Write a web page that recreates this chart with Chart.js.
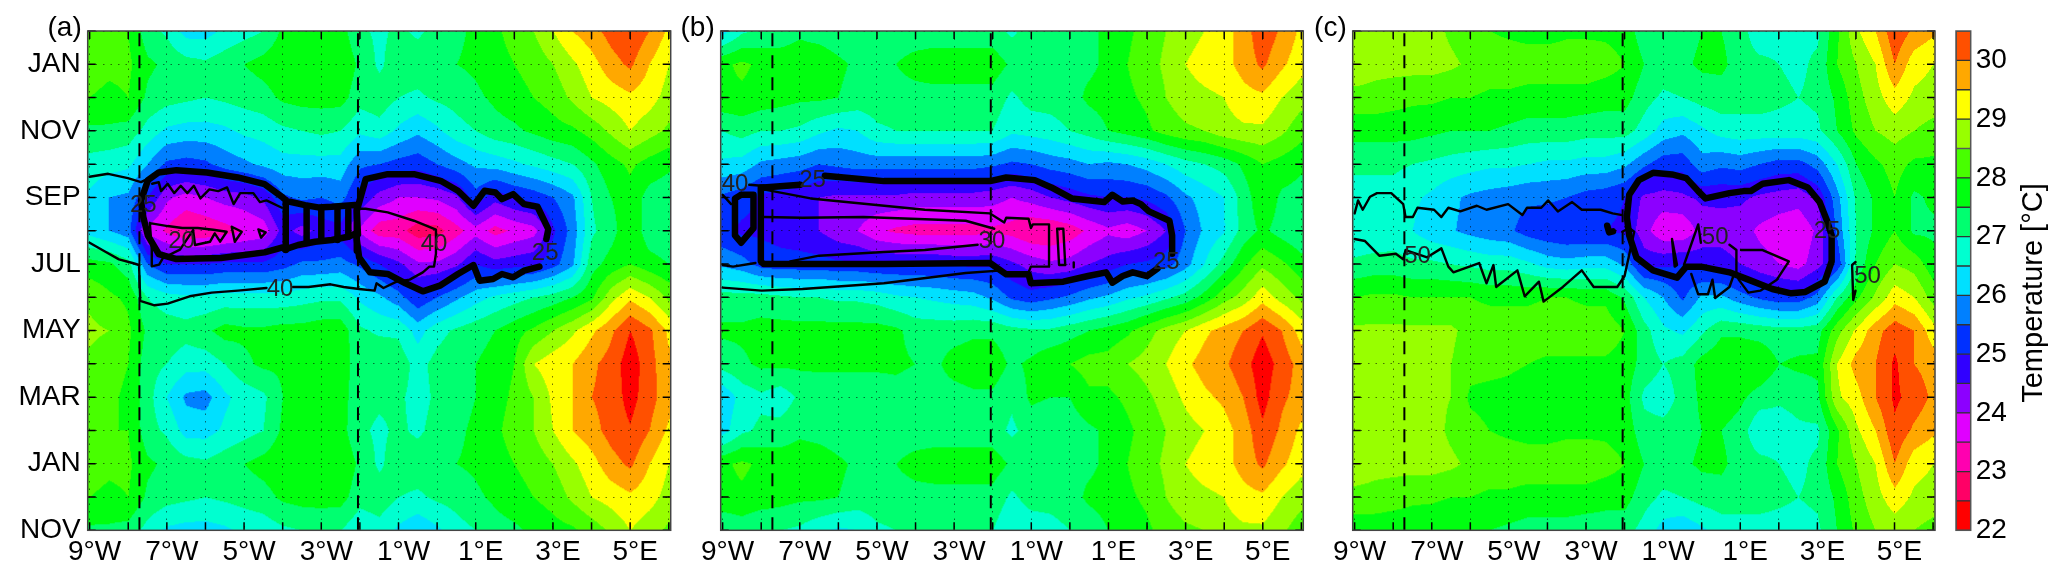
<!DOCTYPE html>
<html>
<head>
<meta charset="utf-8">
<title>Temperature sections</title>
<script src="https://cdn.jsdelivr.net/npm/chart.js@4"></script>
<style>
  html, body { margin: 0; padding: 0; background: #fff; }
  canvas { position: absolute; top: 0; }
</style>
</head>
<body>
<canvas id="panelA" width="680" height="578" style="left:0"></canvas>
<canvas id="panelB" width="640" height="578" style="left:672px"></canvas>
<canvas id="panelC" width="632" height="578" style="left:1312px"></canvas>
<canvas id="colorbar" width="123" height="578" style="left:1944px"></canvas>
<script>
// longitudes of the temperature columns
const lonGrid = [-9,-8.5,-8,-7.5,-7,-6.5,-6,-5.5,-5,-4.5,-4,-3.5,-3,-2.5,-2,-1.5,-1,-0.5,0,0.5,1,1.5,2,2.5,3,3.5,4,4.5,5,5.5,6];
const lonTicks = [-9,-8,-7,-6,-5,-4,-3,-2,-1,0,1,2,3,4,5,6];
const lonLabels = ["9°W","","7°W","","5°W","","3°W","","1°W","","1°E","","3°E","","5°E",""];
// month axis runs NOV (0) up to the next FEB (15)
const monthTicks = [0,1,2,3,4,5,6,7,8,9,10,11,12,13,14,15];
const monthLabels = ["NOV","","JAN","","MAR","","MAY","","JUL","","SEP","","NOV","","JAN",""];
const sectionLons = [-7.71, -2.05];

// one row per month: NOV DEC JAN FEB MAR APR MAY JUN JUL AUG SEP OCT
const tempA = [
  [27.4,27.4,27.3,26.8,26.4,26.3,26.3,26.4,26.6,26.7,26.9,27.0,27.1,27.0,26.6,26.8,26.4,26.1,26.4,26.8,27.0,27.3,27.4,27.6,27.8,27.9,28.2,28.6,29.0,28.7,28.4],
  [28.0,27.9,28.0,27.4,27.2,27.1,27.0,27.1,27.2,27.3,27.6,27.7,27.7,27.7,27.2,27.3,27.0,26.9,27.1,27.2,27.4,27.6,27.8,28.0,28.2,28.6,29.0,29.2,29.4,29.2,28.8],
  [28.2,28.1,28.1,27.6,27.4,27.2,27.1,27.3,27.5,27.7,27.9,27.9,27.9,27.9,27.4,26.9,27.3,27.3,27.4,27.5,27.6,27.8,28.0,28.2,28.5,28.9,29.3,29.8,30.1,29.5,29.0],
  [28.1,28.0,28.0,27.2,26.9,26.3,26.3,26.6,26.8,27.0,27.6,27.7,27.8,27.7,27.1,26.9,27.1,26.9,27.2,27.4,27.6,27.9,28.2,28.5,29.0,29.5,29.8,30.2,30.45,30.0,29.4],
  [28.2,28.1,27.9,27.2,26.5,25.9,25.8,26.4,26.7,26.9,27.5,27.7,27.8,27.7,27.2,27.1,27.1,26.8,27.1,27.3,27.5,27.8,28.1,28.5,29.1,29.5,30.0,30.2,30.7,30.2,29.7],
  [28.4,28.2,28.0,27.2,27.0,26.7,26.7,27.0,27.4,27.6,27.6,27.7,27.9,27.7,27.3,27.5,27.3,26.8,27.2,27.4,27.5,27.7,28.0,29.0,29.3,29.5,29.9,30.2,30.8,30.2,29.6],
  [28.6,28.5,28.1,27.4,27.3,27.2,27.4,27.7,27.6,27.6,27.7,27.7,27.8,27.8,27.1,26.9,26.9,26.3,26.8,27.1,27.3,27.5,27.8,28.1,28.5,28.9,29.4,29.9,30.5,30.1,29.4],
  [28.4,28.1,27.9,27.0,26.7,26.6,26.6,26.7,26.7,26.7,26.7,26.8,26.9,26.9,26.4,26.1,25.7,25.1,25.5,25.9,26.3,26.6,26.8,27.0,27.2,27.5,27.9,28.8,29.4,29.0,28.4],
  [27.7,27.6,27.2,25.5,25.0,25.0,25.0,25.1,25.1,25.1,25.3,25.6,25.6,25.7,25.4,25.0,24.6,24.1,24.1,24.4,25.0,24.7,24.8,24.9,25.3,25.9,27.3,27.7,28.0,27.7,27.5],
  [26.3,26.0,25.7,23.8,23.4,23.0,23.1,23.3,23.5,23.7,24.7,24.3,24.7,24.8,23.9,23.2,23.2,22.7,22.8,23.3,23.8,23.3,23.6,23.8,24.9,25.7,26.9,27.3,27.9,27.2,27.1],
  [26.4,26.0,25.9,25.0,24.1,23.8,24.0,24.2,24.3,24.6,25.4,25.6,25.5,25.7,24.9,24.3,24.0,24.0,24.1,24.4,25.3,24.7,25.0,25.2,25.5,25.9,27.0,27.5,27.8,27.3,27.2],
  [26.8,26.7,26.6,26.0,25.4,25.3,25.4,25.7,25.9,26.1,26.3,26.3,26.3,26.3,25.6,25.5,25.3,25.2,25.5,25.8,26.1,26.2,26.4,26.6,26.8,27.0,27.4,27.8,28.1,27.8,27.6]
];
const tempB = [
  [27.0,27.2,27.0,27.0,26.9,26.6,26.4,26.5,26.9,27.0,27.0,27.0,27.0,27.0,27.0,26.6,26.7,26.8,27.0,27.2,27.5,27.7,27.9,28.2,28.4,28.5,28.8,28.9,28.9,28.6,28.2],
  [27.9,27.9,27.8,27.7,27.6,27.6,27.5,27.3,27.3,27.3,27.3,27.3,27.3,27.3,27.3,26.9,27.2,27.2,27.3,27.6,27.7,27.9,28.1,28.5,28.8,28.9,29.0,29.3,29.4,29.0,28.7],
  [27.9,28.1,27.9,27.8,27.8,27.8,27.6,27.4,27.4,27.5,27.7,27.8,27.8,27.8,27.8,27.4,27.5,27.4,27.4,27.4,27.6,28.0,28.3,28.6,29.0,29.2,29.3,29.7,30.1,29.6,29.2],
  [26.3,26.9,27.1,27.2,27.4,27.3,27.2,27.2,27.2,27.2,27.2,27.2,27.2,27.2,27.2,26.9,27.2,27.1,27.2,27.4,27.6,27.9,28.2,28.5,28.8,29.0,29.3,29.7,30.4,29.9,29.4],
  [26.1,26.7,26.9,26.7,27.1,27.2,27.2,27.2,27.2,27.3,27.2,27.3,27.3,27.4,27.4,27.1,27.6,27.5,27.5,27.9,27.9,28.1,28.4,28.7,29.1,29.4,29.6,30.0,30.7,30.1,29.8],
  [27.2,27.4,27.6,27.6,27.6,27.6,27.6,27.6,27.6,27.6,27.5,27.4,27.7,27.8,27.8,27.4,27.6,27.9,28.0,28.2,28.2,28.5,28.7,29.0,29.4,29.7,29.9,30.3,30.8,30.3,29.8],
  [27.6,27.6,27.7,27.7,27.7,27.7,27.7,27.7,27.7,27.6,27.3,27.3,27.3,27.4,27.4,27.2,27.1,27.1,27.3,27.5,27.7,27.9,28.3,28.7,29.0,29.4,29.7,30.0,30.45,30.0,29.3],
  [27.2,27.2,27.2,27.1,27.0,27.0,26.9,26.9,26.8,26.6,26.5,26.4,26.3,26.2,25.9,25.4,25.2,25.4,25.6,25.9,26.1,26.4,26.6,26.9,27.2,27.7,28.3,28.7,29.3,28.8,28.4],
  [25.9,25.7,25.3,25.2,25.2,25.2,25.1,25.1,25.0,25.0,25.0,25.0,24.9,24.9,24.9,24.6,24.3,24.1,24.2,24.5,24.7,25.0,25.1,25.3,25.8,26.5,27.2,27.9,28.4,28.1,27.7],
  [25.1,24.9,24.9,24.8,24.7,24.5,24.2,24.0,23.6,23.4,23.3,23.3,23.3,23.3,23.4,23.3,23.0,23.0,23.2,23.6,23.9,23.7,24.0,24.5,25.5,26.1,26.45,27.2,27.6,27.3,27.1],
  [25.4,25.2,24.9,24.8,24.7,24.5,24.4,24.4,24.4,24.4,24.3,24.3,24.3,24.3,24.2,24.0,24.2,24.5,24.7,24.9,25.0,25.0,25.1,25.4,25.9,26.2,26.5,27.2,27.9,27.4,27.3],
  [26.4,26.3,25.9,25.8,25.7,25.5,25.6,25.7,25.7,25.7,25.7,25.7,25.7,25.7,25.6,25.4,25.5,25.7,25.8,26.0,25.9,26.0,26.2,26.5,26.8,27.0,27.2,27.6,28.0,27.8,27.6]
];
const tempC = [
  [27.7,27.7,27.7,27.7,27.6,27.5,27.5,27.5,27.4,27.3,27.3,27.3,27.2,27.2,27.2,26.8,26.3,26.1,26.4,26.7,26.8,26.8,26.8,26.8,26.9,27.5,28.1,28.5,28.7,28.5,28.3],
  [28.3,28.3,28.2,28.1,28.1,28.0,28.0,27.9,27.9,27.8,27.8,27.8,27.8,27.7,27.7,27.2,26.9,27.0,27.2,27.3,27.2,27.2,27.1,27.0,27.1,27.6,28.3,28.8,29.3,28.9,28.8],
  [28.9,28.7,28.7,28.7,28.7,28.6,28.4,28.3,28.3,28.3,28.3,28.3,28.3,28.2,28.0,27.5,27.3,27.4,27.6,27.6,27.3,27.2,27.0,26.9,27.1,28.0,28.5,29.0,30.0,29.2,29.0],
  [28.8,28.7,28.7,28.7,28.7,28.4,28.2,28.0,27.9,27.8,27.8,27.9,27.9,27.9,27.8,27.2,27.2,27.3,27.5,27.5,27.3,26.5,26.7,26.9,26.9,27.9,28.9,29.5,30.4,29.9,29.6],
  [28.8,28.8,28.7,28.7,28.6,28.5,27.9,27.8,27.8,27.7,27.7,27.8,27.8,27.8,27.7,26.9,26.7,27.2,27.6,27.8,27.6,27.3,27.1,27.2,27.4,28.9,29.3,30.0,30.6,30.3,29.9],
  [28.8,28.8,28.7,28.7,28.7,28.5,28.2,28.2,28.1,28.0,27.9,27.9,27.9,27.9,27.8,27.3,27.0,27.2,27.7,27.9,27.9,27.9,27.5,27.6,27.6,29.0,29.7,30.0,30.6,30.0,29.8],
  [28.6,28.6,28.6,28.6,28.6,28.6,28.3,28.3,28.3,28.3,28.3,28.3,28.3,28.3,28.0,27.2,26.6,26.4,26.9,27.4,27.4,27.3,27.2,27.2,27.3,28.3,29.1,29.8,30.3,30.0,29.2],
  [28.0,28.1,28.1,28.0,28.0,28.0,28.0,27.9,27.9,27.9,28.0,28.0,27.9,27.9,27.4,26.5,26.0,25.4,26.1,26.1,25.7,25.4,25.2,25.2,25.7,27.0,27.9,28.6,29.3,29.0,28.3],
  [27.1,27.2,27.2,27.1,27.1,27.0,26.9,26.8,26.8,26.6,26.3,26.2,26.3,26.3,25.9,24.8,24.9,25.0,24.8,24.7,24.5,24.2,24.0,23.8,24.3,25.1,27.1,28.0,28.5,28.3,27.7],
  [26.6,26.6,26.7,26.5,26.2,26.05,25.85,25.7,25.6,25.25,25.1,25.0,25.0,25.0,24.9,24.2,23.6,23.6,24.2,24.3,24.2,23.9,23.7,23.6,24.1,25.6,27.0,27.6,28.0,27.4,27.4],
  [26.8,26.8,26.8,26.6,26.4,26.1,25.9,25.8,25.7,25.6,25.6,25.5,25.3,25.2,25.0,24.4,24.3,24.4,24.6,24.6,24.6,24.4,24.3,24.2,24.6,25.8,27.1,27.6,28.0,27.4,27.6],
  [27.1,27.1,27.1,27.0,26.9,26.8,26.7,26.6,26.6,26.5,26.4,26.4,26.3,26.3,26.1,25.6,25.2,25.2,25.8,25.6,25.7,25.5,25.3,25.3,25.7,26.5,27.5,27.9,28.2,27.9,27.9]
];

// contour lines as [lon, month] pairs
const thickA = [
  [[-7.61,9.41],[-7.67,9.9],[-7.49,10.52],[-7.21,10.75],[-6.75,10.82],[-5.96,10.75],[-5.16,10.6],[-4.47,10.4],[-4.0,10.0],[-3.92,9.92],[-3.92,8.42],[-4.0,8.5],[-4.47,8.35],[-5.6,8.18],[-6.75,8.15],[-7.21,8.3],[-7.49,8.85],[-7.61,9.41]],
  [[-2.05,8.9],[-2.08,9.6],[-1.85,10.55],[-1.28,10.7],[-0.6,10.7],[0.09,10.5],[0.54,10.2],[0.94,9.75],[1.23,10.2],[1.51,10.15],[1.68,9.95],[1.97,10.1],[2.25,9.8],[2.6,9.72],[2.88,9.05],[2.83,8.75]],
  [[2.65,7.92],[2.25,7.8],[1.97,7.6],[1.68,7.7],[1.45,7.55],[1.1,7.5],[0.94,7.97],[0.54,7.7],[0.09,7.36],[-0.37,7.18],[-0.82,7.42],[-1.28,7.7],[-1.74,7.75],[-2.02,8.2],[-2.1,8.9]],
  // the pinched stretch between the two lobes
  [[-3.81,9.87],[-3.42,9.77],[-3.08,9.7],[-2.73,9.72],[-2.13,9.77]],
  [[-3.94,8.44],[-3.6,8.57],[-3.16,8.67],[-2.73,8.72],[-2.3,8.82],[-2.08,8.93]],
  [[-3.38,9.68],[-3.38,8.63]],
  [[-3.0,9.62],[-3.0,8.72]],
  [[-2.58,9.68],[-2.58,8.72]],
  [[-2.3,9.62],[-2.3,8.82]],
  [[-2.08,9.77],[-2.08,8.4]]
];
const thinA = [
  [[-9,10.62],[-8.52,10.71],[-8.01,10.58],[-7.67,10.46],[-7.38,10.63]],
  [[-7.38,10.41],[-7.21,10.46],[-7.15,10.19],[-6.98,10.41],[-6.81,10.13],[-6.64,10.35],[-6.47,10.13],[-6.3,10.35],[-6.13,9.97],[-5.9,10.24],[-5.67,10.19],[-5.44,10.3],[-5.27,9.8],[-5.1,10.13],[-4.76,10.13],[-4.59,9.86],[-4.42,9.91],[-4.02,9.69]],
  [[-2.08,9.66],[-1.85,9.66],[-1.28,9.55],[-0.6,9.3],[-0.03,9.03],[-0.03,8.31],[-0.08,7.92],[-0.2,7.92],[-0.37,7.75],[-0.71,7.53],[-1.05,7.47],[-1.39,7.28],[-1.57,7.42],[-1.62,7.2],[-2.02,7.25],[-2.42,7.31],[-2.76,7.39],[-3.33,7.31],[-3.73,7.31]],
  [[-4.42,7.28],[-5.16,7.2],[-5.84,7.14],[-6.41,7.03],[-6.98,6.81],[-7.32,6.76],[-7.69,6.89],[-7.72,7.97],[-7.89,8.03],[-8.24,8.14],[-8.58,8.36],[-9,8.64]],
  [[-7.44,9.23],[-6.98,9.14],[-6.6,9.08],[-6.2,9.08],[-5.8,9.03],[-5.45,8.97],[-5.62,8.67],[-5.76,8.92],[-5.88,8.67],[-6.27,8.57],[-6.32,9.02],[-6.66,8.43],[-7.1,8.18],[-7.2,7.98],[-7.39,7.93],[-7.39,8.43],[-7.44,9.23]],
  [[-5.32,9.12],[-5.06,8.97],[-5.24,8.67],[-5.32,9.12]],
  [[-4.63,9.04],[-4.44,8.95],[-4.56,8.79],[-4.63,9.04]]
];
const labelsA = [["25",-7.61,9.77],["20",-6.62,8.67],["40",-0.08,8.58],["25",2.8,8.33],["40",-4.07,7.25]];

const thickB = [
  [[-7.94,10.3],[-6.99,10.38]],
  [[-6.35,10.65],[-4.82,10.49],[-2.07,10.49],[-1.65,10.6],[-0.91,10.52],[-0.48,10.3],[0.05,9.97],[0.89,9.86],[1.1,10.08],[1.37,9.88],[1.63,9.91],[1.84,9.8],[2.05,9.58],[2.58,9.3],[2.65,8.86],[2.65,8.31]],
  [[2.27,7.86],[2.0,7.64],[1.63,7.75],[1.37,7.64],[1.1,7.44],[0.94,7.75],[0.47,7.64],[-0.17,7.47],[-1.01,7.42],[-1.07,7.69],[-1.65,7.69],[-2.07,8.03],[-4.82,8.0],[-7.94,8.0],[-8.01,8.08],[-8.01,10.3],[-7.94,10.3]],
  [[-8.52,10.08],[-8.2,10.08],[-8.2,9.08],[-8.52,8.64],[-8.68,8.86],[-8.68,9.97],[-8.52,10.08]]
];
const thinB = [
  [[-9,7.97],[-8.73,7.92],[-8.15,8.03]],
  [[-9,7.29],[-7.99,7.2],[-6.93,7.25],[-4.82,7.42],[-2.7,7.73],[-1.75,7.81]],
  [[-9,10.08],[-8.78,9.8]],
  [[-8.31,10.38],[-7.99,10.35]],
  [[-7.94,10.24],[-6.72,9.97],[-3.76,9.63],[-2.07,9.52],[-1.7,9.25],[-1.65,9.39],[-1.07,9.36],[-1.01,9.08],[-0.96,9.19],[-0.54,9.19],[-0.54,7.92],[-1.01,7.92],[-1.07,7.75]],
  [[-0.33,9.06],[-0.17,9.06],[-0.12,7.97],[-0.28,7.97],[-0.33,9.06]],
  [[0.1,8.05],[0.1,7.9]],
  [[-7.94,9.41],[-6.93,9.39],[-5.35,9.41],[-2.7,9.3],[-1.96,9.06]],
  [[-7.25,8.08],[-6.5,8.25],[-4.82,8.36],[-3.76,8.42],[-2.39,8.58]]
];
const labelsB = [["40",-8.68,10.38],["25",-6.67,10.52],["30",-2.02,8.69],["25",2.5,8.06]];

const thickC = [
  [[-1.88,8.86],[-1.94,9.41],[-1.88,10.08],[-1.63,10.52],[-1.26,10.74],[-0.77,10.69],[-0.4,10.58],[-0.09,10.19],[0.1,9.97],[0.72,10.13],[1.09,10.19],[1.27,10.19],[1.58,10.41],[2.26,10.52],[2.75,10.3],[3.06,9.86],[3.25,9.3],[3.37,8.86],[3.37,8.08],[3.19,7.47],[2.69,7.16],[2.32,7.12],[1.83,7.25],[1.21,7.53],[0.72,7.75],[-0.02,7.92],[-0.4,7.92],[-0.64,7.59],[-1.26,7.81],[-1.69,8.19],[-1.88,8.86]],
  [[-2.45,9.15],[-2.4,8.95],[-2.3,8.98]]
];
const thinC = [
  [[-9,9.52],[-8.91,9.91],[-8.79,9.63],[-8.6,10.02],[-8.42,10.13],[-8.05,10.13],[-7.74,9.8],[-7.68,9.41],[-7.49,9.41],[-7.37,9.69],[-6.94,9.63],[-6.75,9.41],[-6.57,9.69],[-6.26,9.58],[-5.83,9.75],[-5.58,9.63],[-5.02,9.8],[-4.65,9.47],[-4.53,9.69],[-4.16,9.69],[-3.98,9.91],[-3.73,9.58],[-3.36,9.86],[-3.11,9.63],[-2.62,9.63],[-2.31,9.52],[-2.06,9.47]],
  [[-9,8.75],[-8.73,8.69],[-8.36,8.25],[-7.93,8.31],[-7.74,8.14],[-7.68,8.42],[-7.12,8.2],[-6.75,8.47],[-6.57,7.92],[-6.44,7.75],[-5.77,8.03],[-5.58,7.42],[-5.4,7.97],[-5.33,7.31],[-4.78,7.81],[-4.59,7.03],[-4.22,7.47],[-4.1,6.87],[-3.6,7.31],[-3.11,7.81],[-2.8,7.31],[-2.19,7.31],[-2.0,7.64],[-1.75,8.97],[-1.88,9.08],[-2.06,8.97]],
  [[-0.77,8.75],[-0.7,7.92],[-0.64,7.97],[-0.77,8.75]],
  [[-0.46,7.97],[-0.09,9.19],[-0.02,8.64]],
  [[0.72,8.58],[0.9,8.42],[0.9,7.7]],
  [[1.02,8.42],[1.58,8.42],[2.26,8.08],[1.95,7.53],[1.52,7.2],[1.21,7.14],[0.96,7.53],[0.9,7.7]],
  [[-0.27,7.7],[-0.09,7.09],[0.16,7.09],[0.28,7.53],[0.35,6.98],[0.72,7.31],[0.84,7.7]],
  [[3.99,8.06],[3.9,7.97],[3.93,6.92],[3.99,7.2]]
];
const labelsC = [["50",-7.37,8.22],["50",0.35,8.8],["50",4.3,7.62],["25",3.25,8.97]];

// colour bar levels, 22 at the bottom
const levels = [22,22.5,23,23.5,24,24.5,25,25.5,26,26.5,27,27.5,28,28.5,29,29.5,30];
const levelColors = ["#ff0000","#ff0066","#ff00b0","#e000ff","#8c00ff","#3000ff","#0030ff","#0080ff","#00e0ff","#00ffd0","#00ff70","#00ff10","#48ff00","#98ff00","#ffff00","#ffa800","#ff5000"];
const barTicks = [22,23,24,25,26,27,28,29,30];

const FONT = '"Liberation Sans", Arial, sans-serif';

function hexToRgb(hex) {
  return [parseInt(hex.slice(1, 3), 16), parseInt(hex.slice(3, 5), 16), parseInt(hex.slice(5, 7), 16)];
}
const levelRgb = levelColors.map(hexToRgb);

function tempAt(rows, lon, month) {
  let fx = (Math.min(6, Math.max(-9, lon)) + 9) / 0.5;
  let i = Math.min(lonGrid.length - 2, Math.floor(fx));
  fx -= i;
  let j = Math.floor(month);
  let fy = month - j;
  let r0 = rows[((j % 12) + 12) % 12];
  let r1 = rows[(((j + 1) % 12) + 12) % 12];
  let a = r0[i] * (1 - fx) + r0[i + 1] * fx;
  let b = r1[i] * (1 - fx) + r1[i + 1] * fx;
  return a * (1 - fy) + b * fy;
}

// filled bands, every pixel asks the chart scales where it is
const bandPlugin = {
  id: "bands",
  beforeDatasetsDraw(chart, args, opts) {
    const area = chart.chartArea;
    const w = Math.round(area.right - area.left);
    const h = Math.round(area.bottom - area.top);
    const off = document.createElement("canvas");
    off.width = w;
    off.height = h;
    const octx = off.getContext("2d");
    const img = octx.createImageData(w, h);
    for (let py = 0; py < h; py++) {
      const month = chart.scales.y.getValueForPixel(area.top + py + 0.5);
      for (let px = 0; px < w; px++) {
        const lon = chart.scales.x.getValueForPixel(area.left + px + 0.5);
        const v = tempAt(opts.rows, lon, month);
        let k = Math.floor((v - 22) / 0.5);
        if (k < 0 || k >= levelRgb.length) k = 0; // above the bar wraps to red
        const c = levelRgb[k];
        const n = (py * w + px) * 4;
        img.data[n] = c[0];
        img.data[n + 1] = c[1];
        img.data[n + 2] = c[2];
        img.data[n + 3] = 255;
      }
    }
    octx.putImageData(img, 0, 0);
    chart.ctx.drawImage(off, area.left, area.top, area.right - area.left, area.bottom - area.top);
  }
};

// box, inward ticks, contour labels and the panel letter
const framePlugin = {
  id: "frame",
  afterDraw(chart, args, opts) {
    const ctx = chart.ctx;
    const area = chart.chartArea;
    const xs = chart.scales.x;
    const ys = chart.scales.y;
    ctx.save();
    ctx.strokeStyle = "#000";
    ctx.lineWidth = 1.5;
    ctx.beginPath();
    lonTicks.forEach(v => {
      const p = xs.getPixelForValue(v);
      ctx.moveTo(p, area.bottom);
      ctx.lineTo(p, area.bottom - 8);
      ctx.moveTo(p, area.top);
      ctx.lineTo(p, area.top + 8);
    });
    monthTicks.forEach(v => {
      const p = ys.getPixelForValue(v);
      ctx.moveTo(area.left, p);
      ctx.lineTo(area.left + 8, p);
      ctx.moveTo(area.right, p);
      ctx.lineTo(area.right - 8, p);
    });
    ctx.stroke();
    ctx.strokeStyle = "#444";
    ctx.strokeRect(area.left, area.top, area.right - area.left, area.bottom - area.top);

    ctx.fillStyle = "#222";
    ctx.font = "24px " + FONT;
    ctx.textAlign = "center";
    ctx.textBaseline = "middle";
    opts.labels.forEach(l => {
      ctx.fillText(l[0], xs.getPixelForValue(l[1]), ys.getPixelForValue(l[2]));
    });

    ctx.fillStyle = "#000";
    ctx.font = "28px " + FONT;
    ctx.textAlign = "right";
    ctx.textBaseline = "alphabetic";
    ctx.fillText(opts.letter, area.left - 6, 36);
    ctx.restore();
  }
};

function lineDataset(line, width, dash) {
  return {
    data: line.map(p => ({ x: p[0], y: p[1] })),
    showLine: true,
    pointRadius: 0,
    borderColor: "#000",
    borderWidth: width,
    borderDash: dash || [],
    borderCapStyle: dash ? "butt" : "round",
    borderJoinStyle: "round",
    tension: 0
  };
}

function makePanel(id, rows, thick, thin, labels, letter, plotLeft, rightPad) {
  const datasets = [];
  thick.forEach(l => datasets.push(lineDataset(l, 6.5)));
  thin.forEach(l => datasets.push(lineDataset(l, 2.4)));
  sectionLons.forEach(lon => datasets.push(lineDataset([[lon, 0], [lon, 15]], 2, [13, 9])));

  return new Chart(document.getElementById(id), {
    type: "scatter",
    data: { datasets },
    plugins: [bandPlugin, framePlugin],
    options: {
      responsive: false,
      animation: false,
      layout: { autoPadding: false, padding: { top: 31, right: rightPad, left: 0, bottom: 0 } },
      plugins: {
        legend: { display: false },
        tooltip: { enabled: false },
        bands: { rows },
        frame: { labels, letter }
      },
      scales: {
        x: {
          type: "linear",
          min: -9.05,
          max: 6.05,
          afterBuildTicks: s => { s.ticks = lonTicks.map(v => ({ value: v })); },
          afterFit: s => { s.height = 47.7; },
          grid: { z: 1, color: "rgba(0,0,0,0.55)", lineWidth: 1, drawTicks: false },
          border: { display: false, dash: [1.5, 6] },
          ticks: {
            autoSkip: false,
            maxRotation: 0,
            padding: 5,
            labelOffset: 5,
            color: "#000",
            font: { family: FONT, size: 28 },
            callback: v => lonLabels[lonTicks.indexOf(v)]
          }
        },
        y: {
          type: "linear",
          min: 0,
          max: 15,
          afterBuildTicks: s => { s.ticks = monthTicks.map(v => ({ value: v })); },
          afterFit: s => { s.width = plotLeft; },
          grid: { z: 1, color: "rgba(0,0,0,0.55)", lineWidth: 1, drawTicks: false },
          border: { display: false, dash: [1.5, 6] },
          ticks: {
            autoSkip: false,
            padding: 7,
            color: "#000",
            font: { family: FONT, size: 28 },
            callback: v => (id === "panelA" ? monthLabels[v] : "")
          }
        }
      }
    }
  });
}

makePanel("panelA", tempA, thickA, thinA, labelsA, "(a)", 87.7, 9.3);
makePanel("panelB", tempB, thickB, thinB, labelsB, "(b)", 48.7, 8.7);
makePanel("panelC", tempC, thickC, thinC, labelsC, "(c)", 40.7, 9);

// colour bar, one floating bar per level
const barTitlePlugin = {
  id: "barTitle",
  afterDraw(chart) {
    const ctx = chart.ctx;
    const area = chart.chartArea;
    ctx.save();
    ctx.strokeStyle = "#555";
    ctx.lineWidth = 1.5;
    ctx.strokeRect(area.left, area.top, area.right - area.left, area.bottom - area.top);
    ctx.translate(90, 293);
    ctx.rotate(-Math.PI / 2);
    ctx.fillStyle = "#000";
    ctx.font = "29px " + FONT;
    ctx.textAlign = "center";
    ctx.textBaseline = "middle";
    ctx.fillText("Temperature [°C]", 0, 0);
    ctx.restore();
  }
};

new Chart(document.getElementById("colorbar"), {
  type: "bar",
  data: {
    labels: ["T"],
    datasets: levels.map((v, i) => ({
      data: [[v, v + 0.5]],
      backgroundColor: levelColors[i],
      borderColor: "#333",
      borderWidth: 1,
      borderSkipped: false,
      barPercentage: 1,
      categoryPercentage: 1,
      grouped: false
    }))
  },
  plugins: [barTitlePlugin],
  options: {
    responsive: false,
    animation: false,
    layout: { autoPadding: false, padding: { top: 31, right: 0, left: 12, bottom: 47.7 } },
    plugins: { legend: { display: false }, tooltip: { enabled: false } },
    scales: {
      x: { display: false },
      y: {
        position: "right",
        min: 22,
        max: 30.5,
        afterBuildTicks: s => { s.ticks = barTicks.map(v => ({ value: v })); },
        afterFit: s => { s.width = 96.3; },
        grid: { display: false, drawTicks: false },
        border: { display: false },
        ticks: {
          padding: 5,
          color: "#000",
          font: { family: FONT, size: 28 },
          callback: v => String(v)
        }
      }
    }
  }
});
</script>
</body>
</html>
